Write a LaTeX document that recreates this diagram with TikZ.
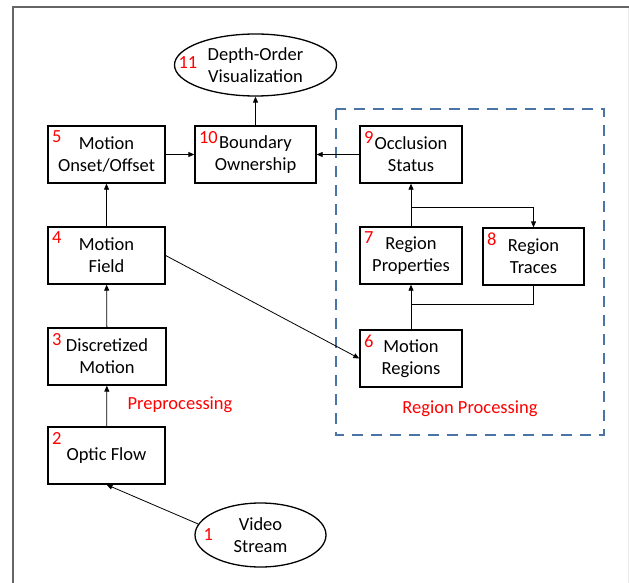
\documentclass[tikz,border=0pt]{standalone}
\usepackage{fontspec}
\setmainfont{Carlito}
\usepackage{tikz}
\usetikzlibrary{arrows.meta, shapes.geometric, positioning, calc}

\definecolor{groupblue}{RGB}{74,116,166}

\begin{document}
\begin{tikzpicture}[
	x=1pt, y=1pt,
	>={Triangle[length=6pt,width=5pt]},
	every node/.style={font=\fontsize{18.5}{22}\selectfont, align=center},
	block/.style={rectangle, draw, line width=1.3pt, minimum width=117pt, minimum height=57pt, inner sep=2pt},
	oval/.style={ellipse, draw, line width=1.3pt, inner sep=0pt},
	num/.style={text=red, inner sep=1pt, anchor=north west, xshift=3.5pt, yshift=-4.5pt},
	onum/.style={text=red, inner sep=1pt, anchor=west},
	tag/.style={text=red},
	link/.style={->, line width=0.8pt},
	groupbox/.style={draw=groupblue, line width=2.5pt, dash pattern=on 11pt off 8pt}
]
	\useasboundingbox (0,0) rectangle (629,-583);
	% page frame
	\draw [black!8, line width=1pt] (628,-7) -- (628,-583);
	\draw [black!60, line width=1.5pt] (13,-583) -- (13,-7) -- (629,-7);

	% region processing group
	\draw [groupbox] (336,-109) rectangle (604,-435);

	% left column
	\node [block] (n2) at (106.5,-455.5) {Optic Flow};
	\node [block, minimum width=118pt] (n3) at (107,-356.5) {Discretized\\Motion};
	\node [block] (n4) at (106.5,-255.5) {Motion\\Field};
	\node [block] (n5) at (106.5,-154.5) {Motion\\Onset/Offset};
	\node [block, minimum width=121pt] (n10) at (255.5,-154.5) {Boundary\\Ownership};
	\node [oval, minimum width=162pt, minimum height=62pt] (n11) at (255.5,-65) {Depth-Order\\Visualization};
	\node [oval, minimum width=131pt, minimum height=64pt] (n1) at (260.5,-535) {Video\\Stream};

	% right column
	\node [block, minimum width=102pt] (n9) at (411,-154.5) {Occlusion\\Status};
	\node [block, minimum width=102pt] (n7) at (411,-255.5) {Region\\Properties};
	\node [block, minimum width=101pt] (n8) at (533.5,-256.5) {Region\\Traces};
	\node [block, minimum width=102pt] (n6) at (411,-358.5) {Motion\\Regions};

	% numbers
	\node [num] (l2) at (n2.north west) {2};
	\node [num] (l3) at (n3.north west) {3};
	\node [num] (l4) at (n4.north west) {4};
	\node [num] (l5) at (n5.north west) {5};
	\node [num] (l6) at (n6.north west) {6};
	\node [num] (l7) at (n7.north west) {7};
	\node [num] (l8) at (n8.north west) {8};
	\node [num] (l9) at (n9.north west) {9};
	\node [num] (l10) at (n10.north west) {10};
	\node [onum, xshift=3.5pt, yshift=2pt] (l11) at (n11.west) {11};
	\node [onum, xshift=8pt] (l1) at (n1.west) {1};

	\node [tag] (pre) at (180,-405) {Preprocessing};
	\node [tag] (regproc) at (470,-409) {Region Processing};

	% connectors
	\coordinate (split) at (411,-207);
	\coordinate (join) at (411,-304);
	\draw [link] (n1.170) -- (n2.south);
	\draw [link] (n2) -- (n3);
	\draw [link] (n3) -- (n4);
	\draw [link] (n4) -- (n5);
	\draw [link] (n5) -- (n10);
	\draw [link] (n10) -- (n11);
	\draw [link] (n4.east) -- (n6.west);
	\draw [link] (n6) -- (n7);
	\draw [link] (n7) -- (n9);
	\draw [link] (split) -| (n8.north);
	\draw [line width=0.8pt] (n8.south) |- (join);
	\draw [link] (n9) -- (n10);
\end{tikzpicture}
\end{document}
